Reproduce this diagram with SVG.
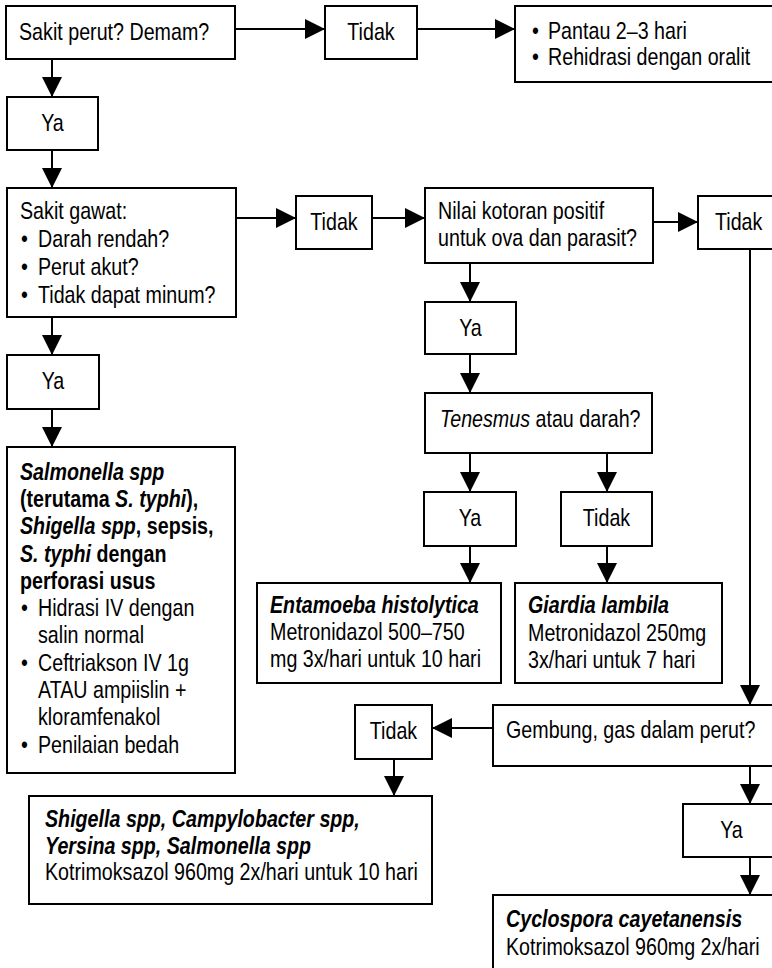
<svg xmlns="http://www.w3.org/2000/svg" width="772" height="968" viewBox="0 0 772 968">
<defs>
<style>
.b{fill:#fff;stroke:#000;stroke-width:2}
.c{fill:none;stroke:#000;stroke-width:2}
text{font-family:"Liberation Sans",Arial,sans-serif;font-size:24px;fill:#000}
.m{text-anchor:middle}
.bi{font-weight:bold;font-style:italic}
.bo{font-weight:bold}
.i{font-style:italic}
</style>
<marker id="ah" markerUnits="userSpaceOnUse" markerWidth="20" markerHeight="20" viewBox="0 0 20 20" refX="20" refY="10" orient="auto">
<path d="M0,0 L20,10 L0,20 Z" fill="#000"/>
</marker>
</defs>
<rect width="772" height="968" fill="#fff"/>
<g id="connectors" class="c" marker-end="url(#ah)">
<line x1="235" y1="29" x2="325" y2="29"/>
<line x1="417" y1="29" x2="515" y2="29"/>
<line x1="52" y1="59" x2="52" y2="97"/>
<line x1="52" y1="150" x2="52" y2="188"/>
<line x1="236" y1="218" x2="296" y2="218"/>
<line x1="372" y1="218" x2="425" y2="218"/>
<line x1="653" y1="222" x2="698" y2="222"/>
<line x1="52" y1="317" x2="52" y2="355"/>
<line x1="52" y1="409" x2="52" y2="447"/>
<line x1="470" y1="263" x2="470" y2="302"/>
<line x1="470" y1="354" x2="470" y2="393"/>
<line x1="470" y1="453" x2="470" y2="492"/>
<line x1="607" y1="453" x2="607" y2="492"/>
<line x1="470" y1="546" x2="470" y2="583"/>
<line x1="607" y1="546" x2="607" y2="583"/>
<line x1="750" y1="249" x2="750" y2="705"/>
<line x1="493" y1="728" x2="432" y2="728"/>
<line x1="394" y1="759" x2="394" y2="796"/>
<line x1="750" y1="766" x2="750" y2="804"/>
<line x1="750" y1="857" x2="750" y2="895"/>
</g>
<g id="n1"><rect class="b" x="6" y="6" width="229" height="53"/><text transform="translate(19,40) scale(0.82,1)">Sakit perut? Demam?</text></g>
<g id="t1"><rect class="b" x="325" y="6" width="92" height="53"/><text class="m" transform="translate(371,40) scale(0.82,1)">Tidak</text></g>
<g id="pantau"><rect class="b" x="515" y="6" width="280" height="76"/>
<text transform="translate(532,39) scale(0.82,1)">•</text><text transform="translate(548,39) scale(0.82,1)">Pantau 2–3 hari</text>
<text transform="translate(532,65) scale(0.82,1)">•</text><text transform="translate(548,65) scale(0.82,1)">Rehidrasi dengan oralit</text></g>
<g id="y1"><rect class="b" x="7" y="97" width="91" height="53"/><text class="m" transform="translate(52.5,131) scale(0.82,1)">Ya</text></g>
<g id="n2"><rect class="b" x="7" y="188" width="229" height="129"/>
<text transform="translate(20,219) scale(0.82,1)">Sakit gawat:</text>
<text transform="translate(21,247) scale(0.82,1)">•</text><text transform="translate(38,247) scale(0.82,1)">Darah rendah?</text>
<text transform="translate(21,275) scale(0.82,1)">•</text><text transform="translate(38,275) scale(0.82,1)">Perut akut?</text>
<text transform="translate(21,303) scale(0.82,1)">•</text><text transform="translate(38,303) scale(0.82,1)">Tidak dapat minum?</text></g>
<g id="t2"><rect class="b" x="296" y="196" width="76" height="53"/><text class="m" transform="translate(334,230) scale(0.82,1)">Tidak</text></g>
<g id="n3"><rect class="b" x="425" y="188" width="228" height="75"/>
<text transform="translate(438,219) scale(0.82,1)">Nilai kotoran positif</text>
<text transform="translate(438,246) scale(0.82,1)">untuk ova dan parasit?</text></g>
<g id="t3"><rect class="b" x="698" y="196" width="80" height="53"/><text transform="translate(715,230) scale(0.82,1)">Tidak</text></g>
<g id="y2"><rect class="b" x="7" y="355" width="92" height="54"/><text class="m" transform="translate(53,389) scale(0.82,1)">Ya</text></g>
<g id="y3"><rect class="b" x="425" y="302" width="91" height="52"/><text class="m" transform="translate(470.5,336) scale(0.82,1)">Ya</text></g>
<g id="n4"><rect class="b" x="425" y="393" width="227" height="60"/><text transform="translate(440,427) scale(0.82,1)"><tspan class="i">Tenesmus</tspan> atau darah?</text></g>
<g id="y4"><rect class="b" x="424" y="492" width="92" height="54"/><text class="m" transform="translate(470,526) scale(0.82,1)">Ya</text></g>
<g id="t4"><rect class="b" x="561" y="492" width="91" height="54"/><text class="m" transform="translate(606.5,526) scale(0.82,1)">Tidak</text></g>
<g id="n5"><rect class="b" x="7" y="447" width="228" height="326"/>
<text class="bi" transform="translate(20,480) scale(0.82,1)">Salmonella spp</text>
<text class="bo" transform="translate(20,507) scale(0.82,1)">(terutama <tspan class="i">S. typhi</tspan>),</text>
<text class="bo" transform="translate(20,534) scale(0.82,1)"><tspan class="i">Shigella spp</tspan>, sepsis,</text>
<text class="bo" transform="translate(20,562) scale(0.82,1)"><tspan class="i">S. typhi</tspan> dengan</text>
<text class="bo" transform="translate(20,589) scale(0.82,1)">perforasi usus</text>
<text transform="translate(21,616) scale(0.82,1)">•</text><text transform="translate(38,616) scale(0.82,1)">Hidrasi IV dengan</text>
<text transform="translate(38,643) scale(0.82,1)">salin normal</text>
<text transform="translate(21,671) scale(0.82,1)">•</text><text transform="translate(38,671) scale(0.82,1)">Ceftriakson IV 1g</text>
<text transform="translate(38,698) scale(0.82,1)">ATAU ampiislin +</text>
<text transform="translate(38,725) scale(0.82,1)">kloramfenakol</text>
<text transform="translate(21,753) scale(0.82,1)">•</text><text transform="translate(38,753) scale(0.82,1)">Penilaian bedah</text></g>
<g id="n6"><rect class="b" x="257" y="583" width="244" height="100"/>
<text class="bi" transform="translate(270,613) scale(0.82,1)">Entamoeba histolytica</text>
<text transform="translate(270,640) scale(0.82,1)">Metronidazol 500–750</text>
<text transform="translate(270,667) scale(0.82,1)">mg 3x/hari untuk 10 hari</text></g>
<g id="n7"><rect class="b" x="515" y="583" width="207" height="100"/>
<text class="bi" transform="translate(528,613) scale(0.82,1)">Giardia lambila</text>
<text transform="translate(528,641) scale(0.82,1)">Metronidazol 250mg</text>
<text transform="translate(528,668) scale(0.82,1)">3x/hari untuk 7 hari</text></g>
<g id="n8"><rect class="b" x="493" y="705" width="300" height="61"/><text transform="translate(506,738) scale(0.82,1)">Gembung, gas dalam perut?</text></g>
<g id="t5"><rect class="b" x="355" y="705" width="77" height="54"/><text class="m" transform="translate(393.5,739) scale(0.82,1)">Tidak</text></g>
<g id="n9"><rect class="b" x="29" y="796" width="403" height="108"/>
<text class="bi" transform="translate(45,827) scale(0.82,1)">Shigella spp, Campylobacter spp,</text>
<text class="bi" transform="translate(45,854) scale(0.82,1)">Yersina spp, Salmonella spp</text>
<text transform="translate(45,880) scale(0.82,1)">Kotrimoksazol 960mg 2x/hari untuk 10 hari</text></g>
<g id="y5"><rect class="b" x="683" y="804" width="97" height="53"/><text class="m" transform="translate(731.5,838) scale(0.82,1)">Ya</text></g>
<g id="n10"><rect class="b" x="493" y="895" width="300" height="90"/>
<text class="bi" transform="translate(506,927) scale(0.82,1)">Cyclospora cayetanensis</text>
<text transform="translate(506,955) scale(0.82,1)">Kotrimoksazol 960mg 2x/hari</text></g>
</svg>
